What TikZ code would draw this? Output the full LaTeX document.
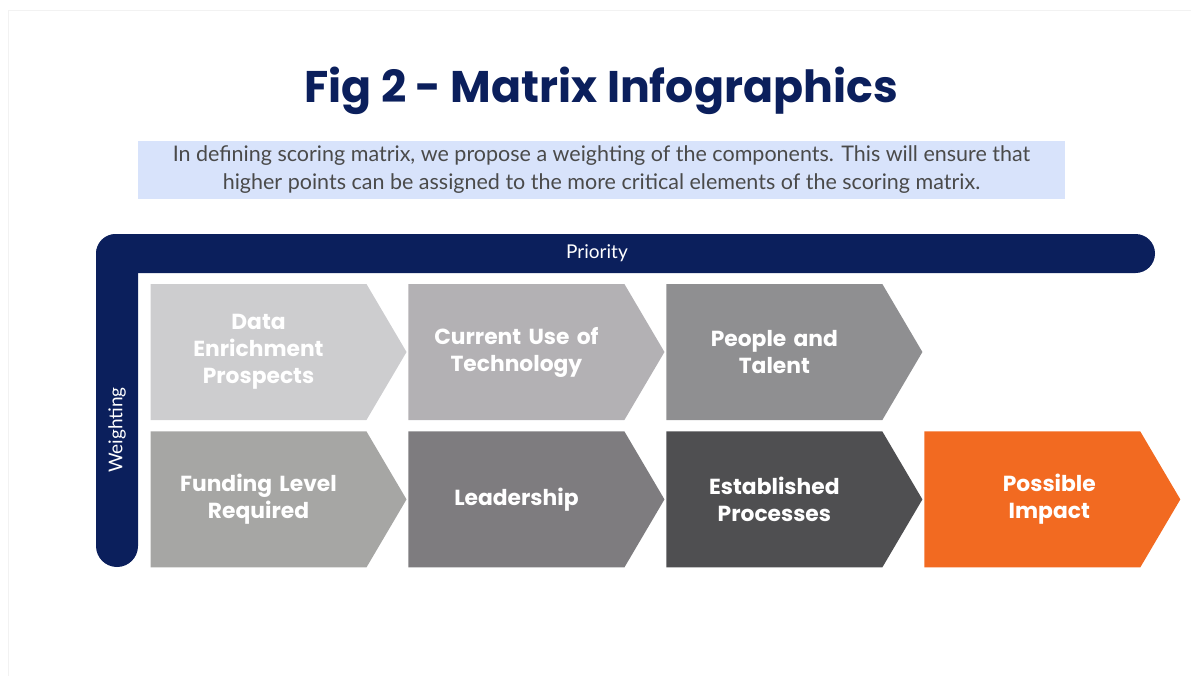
\documentclass[tikz,border=0pt]{standalone}
\usepackage{fontspec}
\setmainfont{Lato}
\newfontfamily\poppins{Poppins}
\usetikzlibrary{positioning, shapes.symbols}
\definecolor{navy}{HTML}{0B1F5C}
\definecolor{note}{HTML}{D8E3FB}
\definecolor{notetext}{HTML}{4A4A4A}
\definecolor{greyA}{HTML}{CDCDCF}
\definecolor{greyB}{HTML}{B3B1B4}
\definecolor{greyC}{HTML}{8F8F91}
\definecolor{greyD}{HTML}{A6A6A4}
\definecolor{greyE}{HTML}{7E7C7F}
\definecolor{greyF}{HTML}{4F4F51}
\definecolor{impact}{HTML}{F26A21}
\tikzstyle{chevron} = [signal, signal to=east, signal from=nowhere, signal pointer angle=119, minimum width=256pt, minimum height=136pt, inner sep=0pt, text width=200pt, align=center, text=white, font=\poppins\bfseries\fontsize{21.8}{27}\selectfont]
\tikzstyle{axis} = [text=white, font=\fontsize{19}{22}\selectfont]

\begin{document}
\begin{tikzpicture}[x=1pt, y=-1pt, node distance=1.5pt]
    \useasboundingbox (0,0) rectangle (1191,675);
    \draw [black!5] (8,10) rectangle (1200,690);

    \node (title) [text=navy, font=\poppins\bfseries\fontsize{44.3}{50}\selectfont] at (601,91) {Fig 2 - Matrix Infographics};
    \node (note) [fill=note, minimum width=927pt, minimum height=58pt, align=center, text=notetext, font=\fontsize{21.5}{28}\selectfont] at (601.5,170) {In defining scoring matrix, we propose a weighting of the components. This will ensure that\\higher points can be assigned to the more critical elements of the scoring matrix.};

    % Frame.
    \fill [navy, rounded corners=19.5pt] (96,234) rectangle (1155,273);
    \fill [navy, rounded corners=21pt] (96,234) rectangle (138,567);
    \node (priority) [axis] at (597,253) {Priority};
    \node (weighting) [axis, rotate=90] at (117,430) {Weighting};

    % Chevrons.
    \node (data) [chevron, fill=greyA] at (258.5,352) {Data\\Enrichment\\Prospects};
    \node (tech) [chevron, fill=greyB, right=of data] {Current Use of\\Technology};
    \node (people) [chevron, fill=greyC, right=of tech] {People and\\Talent};
    \node (funding) [chevron, fill=greyD, below=11pt of data] {Funding Level\\Required};
    \node (lead) [chevron, fill=greyE, right=of funding] {Leadership};
    \node (process) [chevron, fill=greyF, right=of lead] {Established\\Processes};
    \node (impact) [chevron, fill=impact, right=of process] {\hspace*{34pt}Possible\\\hspace*{34pt}Impact};
\end{tikzpicture}
\end{document}
